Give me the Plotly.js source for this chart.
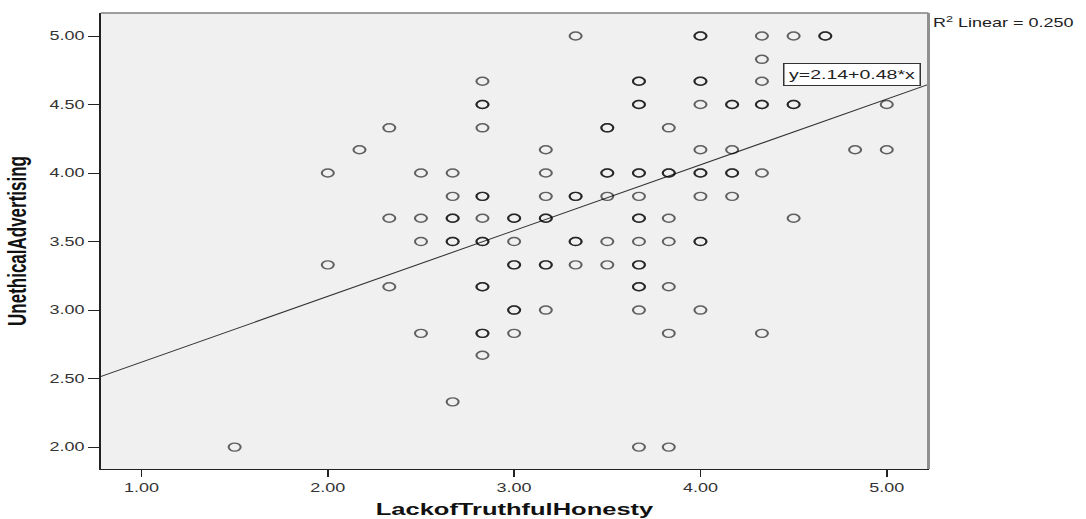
<!DOCTYPE html>
<html>
<head>
<meta charset="utf-8">
<script src="https://cdn.plot.ly/plotly-3.0.1.min.js"></script>
<style>
  html, body { margin: 0; padding: 0; background: #ffffff; overflow: hidden; }
  #chart { width: 724px; height: 519px; transform: scaleX(1.5); transform-origin: 0 0; }
</style>
</head>
<body>
<div id="chart"></div>
<script>
// Data (x = LackofTruthfulHonesty, y = UnethicalAdvertising)
// overlap = how many respondents share the point (bolder circles in the reference)
const lackTruthful = [
  3.33, 4.00, 4.33, 4.50, 4.67,
  4.33,
  2.83, 3.67, 4.00, 4.33, 4.50, 4.67,
  2.83, 3.67, 4.00, 4.17, 4.33, 4.50, 5.00,
  2.33, 2.83, 3.50, 3.83,
  2.17, 3.17, 4.00, 4.17, 4.83, 5.00,
  2.00, 2.50, 2.67, 3.17, 3.50, 3.67, 3.83, 4.00, 4.17, 4.33,
  2.67, 2.83, 3.17, 3.33, 3.50, 3.67, 4.00, 4.17,
  2.33, 2.50, 2.67, 2.83, 3.00, 3.17, 3.67, 3.83, 4.50,
  2.50, 2.67, 2.83, 3.00, 3.33, 3.50, 3.67, 3.83, 4.00,
  2.00, 3.00, 3.17, 3.33, 3.50, 3.67,
  2.33, 2.83, 3.67, 3.83,
  3.00, 3.17, 3.67, 4.00,
  2.50, 2.83, 3.00, 3.83, 4.33,
  2.83,
  2.67,
  1.50, 3.67, 3.83
];
const unethicalAdv = [
  5.00, 5.00, 5.00, 5.00, 5.00,
  4.83,
  4.67, 4.67, 4.67, 4.67, 4.67, 4.67,
  4.50, 4.50, 4.50, 4.50, 4.50, 4.50, 4.50,
  4.33, 4.33, 4.33, 4.33,
  4.17, 4.17, 4.17, 4.17, 4.17, 4.17,
  4.00, 4.00, 4.00, 4.00, 4.00, 4.00, 4.00, 4.00, 4.00, 4.00,
  3.83, 3.83, 3.83, 3.83, 3.83, 3.83, 3.83, 3.83,
  3.67, 3.67, 3.67, 3.67, 3.67, 3.67, 3.67, 3.67, 3.67,
  3.50, 3.50, 3.50, 3.50, 3.50, 3.50, 3.50, 3.50, 3.50,
  3.33, 3.33, 3.33, 3.33, 3.33, 3.33,
  3.17, 3.17, 3.17, 3.17,
  3.00, 3.00, 3.00, 3.00,
  2.83, 2.83, 2.83, 2.83, 2.83,
  2.67,
  2.33,
  2.00, 2.00, 2.00
];
const overlap = [
  1, 2, 1, 1, 2,
  1,
  1, 2, 2, 1, 1, 1,
  2, 2, 1, 2, 2, 2, 1,
  1, 1, 2, 1,
  1, 1, 1, 1, 1, 1,
  1, 1, 1, 1, 2, 2, 2, 2, 2, 1,
  1, 2, 1, 2, 1, 1, 1, 1,
  1, 1, 2, 1, 2, 2, 2, 1, 1,
  1, 2, 2, 1, 2, 1, 1, 1, 2,
  1, 2, 2, 1, 1, 2,
  1, 2, 2, 1,
  2, 1, 1, 1,
  1, 2, 1, 1, 1,
  1,
  1,
  1, 1, 1
];
const fitIntercept = 2.14;
const fitSlope = 0.48;
const rSquared = '0.250';
const xTickVals = [1, 2, 3, 4, 5];
const yTickVals = [2.0, 2.5, 3.0, 3.5, 4.0, 4.5, 5.0];
const xRange = [0.78, 5.224];
const yRange = [1.84, 5.168];

// expand overlapping points so they darken like the reference
const px = [], py = [];
lackTruthful.forEach((x, i) => {
  for (let k = 0; k < overlap[i]; k++) { px.push(x); py.push(unethicalAdv[i]); }
});

const scatter = {
  type: 'scatter', mode: 'markers', x: px, y: py,
  marker: { symbol: 'circle-open', size: 8, color: 'rgba(0,0,0,0.6)', line: { width: 1.4, color: 'rgba(0,0,0,0.6)' } },
  hoverinfo: 'x+y', showlegend: false
};
const fit = {
  type: 'scatter', mode: 'lines',
  x: xRange, y: xRange.map(x => fitIntercept + fitSlope * x),
  line: { color: '#333333', width: 1 }, hoverinfo: 'skip', showlegend: false
};

const tickFont = { family: 'Liberation Sans, Arial, sans-serif', size: 12, color: '#333333' };
const layout = {
  width: 724, height: 519,
  margin: { l: 67, r: 105, t: 13, b: 50 },
  paper_bgcolor: '#ffffff', plot_bgcolor: '#f0f0f0',
  showlegend: false,
  xaxis: {
    range: xRange, tickvals: xTickVals, tickformat: '.2f',
    ticks: 'outside', ticklen: 7, tickwidth: 1, tickcolor: '#222222',
    showgrid: false, zeroline: false,
    showline: true, linecolor: '#222222', linewidth: 1.3,
    tickfont: tickFont,
    title: { text: 'LackofTruthfulHonesty', standoff: 10,
      font: { family: 'Liberation Sans, Arial, sans-serif', size: 17, weight: 'bold', color: '#111111' } }
  },
  yaxis: {
    range: yRange, tickvals: yTickVals, tickformat: '.2f',
    ticks: 'outside', ticklen: 7, tickwidth: 1, tickcolor: '#222222',
    showgrid: false, zeroline: false,
    showline: true, linecolor: '#222222', linewidth: 1.3,
    tickfont: tickFont,
    title: { text: 'UnethicalAdvertising', standoff: 10,
      font: { family: 'Liberation Sans, Arial, sans-serif', size: 17, weight: 'bold', color: '#111111' } }
  },
  shapes: [
    { type: 'line', xref: 'paper', yref: 'paper', x0: 0, x1: 1, y0: 1, y1: 1, line: { color: '#808080', width: 1.5 } },
    { type: 'line', xref: 'paper', yref: 'paper', x0: 1, x1: 1, y0: 0, y1: 1, line: { color: '#909090', width: 2 } }
  ],
  annotations: [
    { xref: 'x', yref: 'y', x: 4.815, y: 4.722, xanchor: 'center', yanchor: 'middle',
      text: 'y=' + fitIntercept.toFixed(2) + '+' + fitSlope.toFixed(2) + '*x', showarrow: false,
      bgcolor: '#ffffff', bordercolor: '#333333', borderwidth: 1, borderpad: 3,
      font: { family: 'Liberation Sans, Arial, sans-serif', size: 13, color: '#222222' } },
    { xref: 'paper', yref: 'paper', x: 1, y: 1, xanchor: 'left', yanchor: 'top', xshift: 1, yshift: 1,
      text: 'R<sup>2</sup> Linear = ' + rSquared, showarrow: false,
      font: { family: 'Liberation Sans, Arial, sans-serif', size: 12, color: '#222222' } }
  ]
};

Plotly.newPlot('chart', [fit, scatter], layout, { displayModeBar: false, staticPlot: true });
</script>
</body>
</html>
